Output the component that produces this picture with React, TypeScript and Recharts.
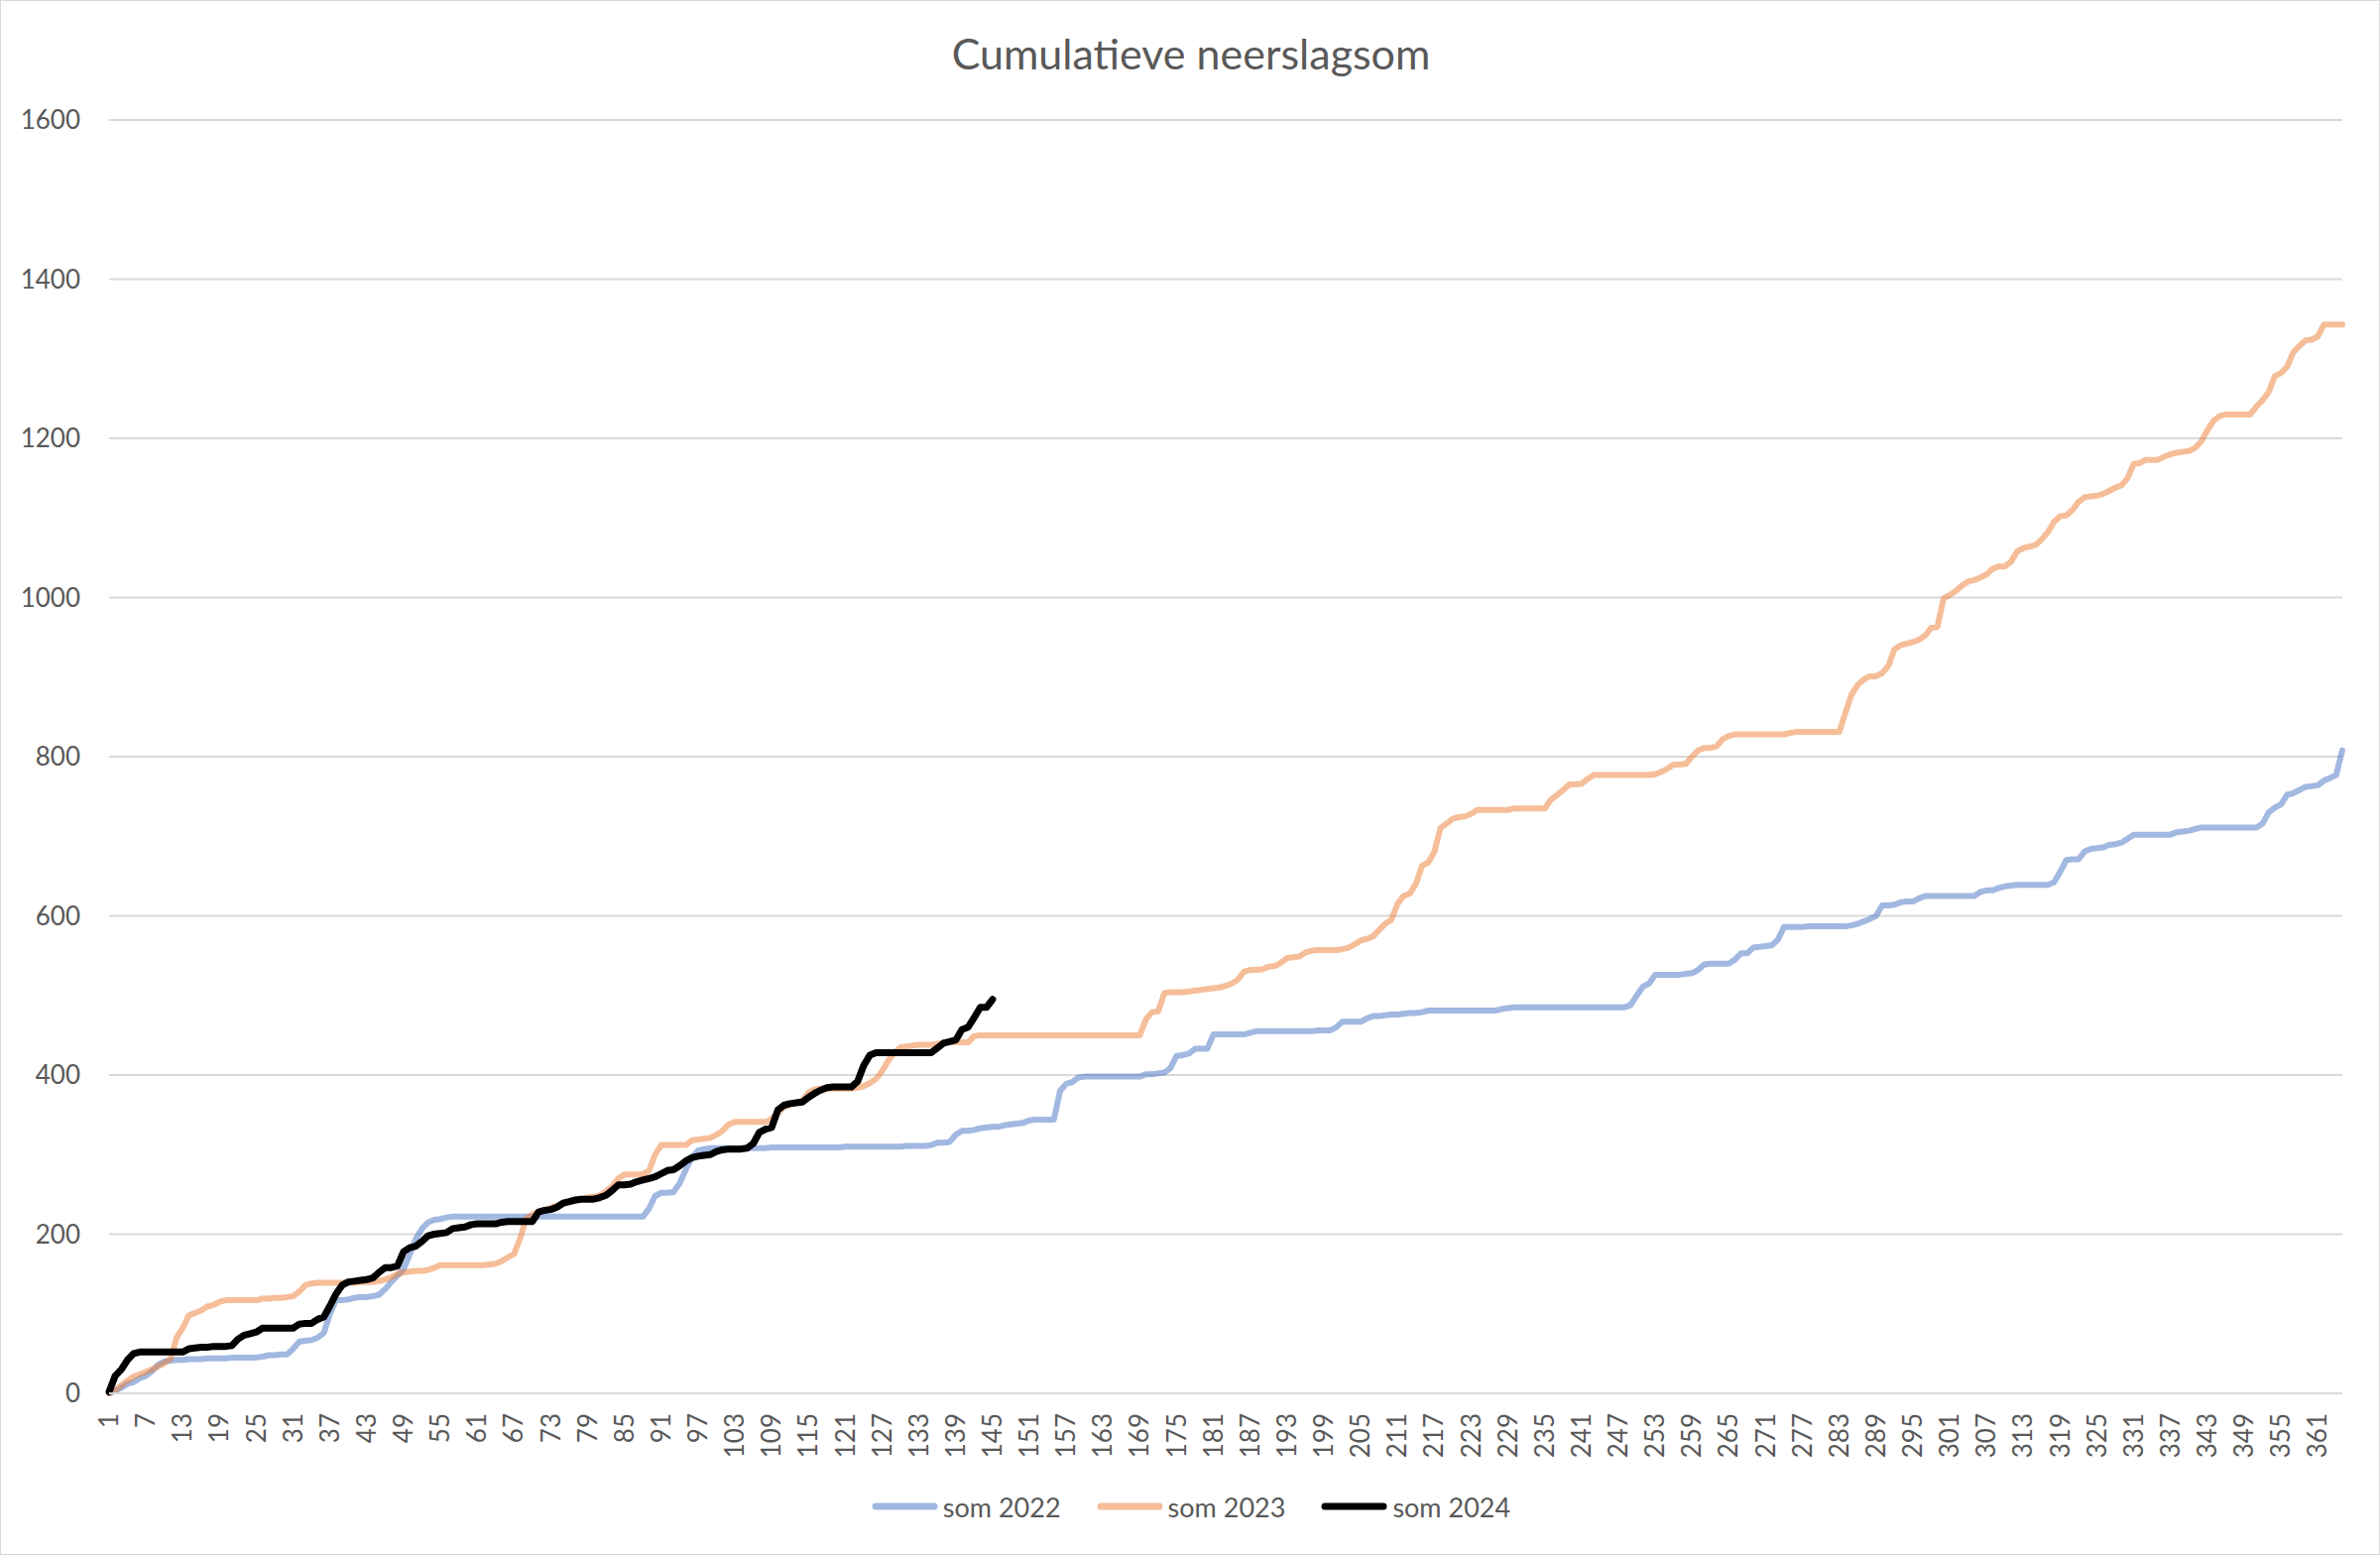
import { LineChart, Line, XAxis, YAxis, CartesianGrid } from 'recharts';

const FONT = 'Lato, "Open Sans", sans-serif';

// day numbers 1..365 (category labels)
const days = Array.from({ length: 365 }, (_, i) => i + 1);

const yTicks = [0, 200, 400, 600, 800, 1000, 1200, 1400, 1600];

// cumulative precipitation (mm)
const som2022 = [
  0, 3, 7, 12, 14, 19, 22, 28, 36, 40,
  41, 42, 42, 43, 43, 43, 44, 44, 44, 44,
  45, 45, 45, 45, 45, 46, 48, 48, 49, 49,
  56, 65, 66, 67, 70, 76, 100, 117, 117, 118,
  120, 121, 121, 122, 124, 131, 140, 148, 156, 175,
  194, 207, 215, 218, 219, 221, 222, 222, 222, 222,
  222, 222, 222, 222, 222, 222, 222, 222, 222, 222,
  222, 222, 222, 222, 222, 222, 222, 222, 222, 222,
  222, 222, 222, 222, 222, 222, 222, 222, 232, 248,
  252, 252, 253, 264, 281, 297, 305, 307, 308, 308,
  308, 308, 308, 308, 308, 308, 308, 308, 309, 309,
  309, 309, 309, 309, 309, 309, 309, 309, 309, 309,
  310, 310, 310, 310, 310, 310, 310, 310, 310, 310,
  311, 311, 311, 311, 312, 315, 315, 316, 325, 330,
  330, 331, 333, 334, 335, 335, 337, 338, 339, 340,
  343, 344, 344, 344, 344, 380, 389, 391, 397, 398,
  398, 398, 398, 398, 398, 398, 398, 398, 398, 401,
  401, 402, 403, 409, 424, 425, 427, 433, 433, 433,
  451, 451, 451, 451, 451, 451, 453, 455, 455, 455,
  455, 455, 455, 455, 455, 455, 455, 456, 456, 456,
  460, 467, 467, 467, 467, 471, 474, 474, 475, 476,
  476, 477, 478, 478, 479, 481, 481, 481, 481, 481,
  481, 481, 481, 481, 481, 481, 481, 483, 484, 485,
  485, 485, 485, 485, 485, 485, 485, 485, 485, 485,
  485, 485, 485, 485, 485, 485, 485, 485, 488, 500,
  511, 515, 526, 526, 526, 526, 526, 527, 528, 532,
  539, 540, 540, 540, 540, 545, 553, 553, 560, 561,
  562, 563, 570, 586, 586, 586, 586, 587, 587, 587,
  587, 587, 587, 587, 588, 590, 593, 596, 600, 613,
  613, 614, 617, 618, 618, 622, 625, 625, 625, 625,
  625, 625, 625, 625, 625, 630, 632, 632, 635, 637,
  638, 639, 639, 639, 639, 639, 639, 642, 655, 670,
  671, 671, 681, 684, 685, 686, 689, 690, 692, 697,
  702, 702, 702, 702, 702, 702, 702, 705, 706, 707,
  709, 711, 711, 711, 711, 711, 711, 711, 711, 711,
  711, 716, 730, 736, 740, 752, 754, 758, 762, 763,
  764, 770, 773, 777, 808,
];

const som2023 = [
  0, 4, 10, 16, 21, 24, 27, 30, 34, 38,
  43, 70, 82, 98, 101, 104, 109, 111, 115, 117,
  117, 117, 117, 117, 117, 119, 119, 120, 120, 121,
  122, 128, 136, 138, 139, 139, 139, 139, 139, 139,
  139, 140, 140, 140, 141, 143, 146, 150, 152, 153,
  154, 154, 155, 158, 161, 161, 161, 161, 161, 161,
  161, 161, 162, 163, 166, 171, 175, 195, 220, 225,
  228, 230, 233, 236, 238, 240, 242, 244, 246, 247,
  249, 254, 260, 270, 275, 275, 275, 275, 280, 300,
  312, 312, 312, 312, 312, 318, 319, 320, 321, 325,
  330, 338, 341, 341, 341, 341, 341, 341, 345, 352,
  360, 363, 365, 368, 378, 382, 383, 383, 383, 383,
  383, 383, 384, 386, 390, 395, 405, 418, 428, 435,
  436, 437, 438, 438, 438, 439, 441, 441, 441, 441,
  441, 449, 450, 450, 450, 450, 450, 450, 450, 450,
  450, 450, 450, 450, 450, 450, 450, 450, 450, 450,
  450, 450, 450, 450, 450, 450, 450, 450, 450, 470,
  479, 480, 503, 504, 504, 504, 505, 506, 507, 508,
  509, 510, 512, 515, 520, 530, 532, 532, 533, 536,
  537, 541, 547, 548, 549, 554, 556, 557, 557, 557,
  557, 558, 560, 564, 569, 571, 574, 582, 590, 595,
  615, 625, 628, 640, 663, 667, 680, 710, 716, 722,
  724, 725, 728, 733, 733, 733, 733, 733, 733, 735,
  735, 735, 735, 735, 735, 746, 752, 758, 765, 765,
  766, 772, 777, 777, 777, 777, 777, 777, 777, 777,
  777, 777, 778, 781, 785, 790, 790, 791, 800, 808,
  811, 811, 813, 822, 826, 828, 828, 828, 828, 828,
  828, 828, 828, 828, 830, 831, 831, 831, 831, 831,
  831, 831, 831, 855, 878, 890, 897, 901, 901, 905,
  914, 935, 940, 942, 944, 947, 952, 962, 963, 999,
  1003, 1008, 1015, 1020, 1022, 1025, 1029, 1036, 1039, 1039,
  1045, 1058, 1062, 1064, 1066, 1073, 1082, 1095, 1102, 1103,
  1110, 1120, 1126, 1127, 1128, 1130, 1134, 1138, 1141, 1150,
  1168, 1169, 1173, 1173, 1173, 1177, 1180, 1182, 1183, 1184,
  1188, 1196, 1210, 1222, 1228, 1230, 1230, 1230, 1230, 1230,
  1240, 1248, 1258, 1278, 1282, 1290, 1308, 1316, 1323, 1324,
  1328, 1343, 1343, 1343, 1343,
];

const som2024 = [
  2, 22, 30, 42, 50, 52, 52, 52, 52, 52,
  52, 52, 52, 56, 57, 58, 58, 59, 59, 59,
  60, 68, 73, 75, 77, 82, 82, 82, 82, 82,
  82, 87, 88, 88, 93, 96, 110, 125, 136, 140,
  141, 142, 143, 145, 152, 158, 158, 160, 178, 183,
  185, 191, 198, 200, 201, 202, 207, 208, 209, 212,
  213, 213, 213, 213, 215, 216, 216, 216, 216, 216,
  228, 230, 231, 234, 239, 241, 243, 244, 244, 244,
  246, 249, 255, 262, 262, 263, 266, 268, 270, 272,
  276, 280, 281, 286, 292, 296, 298, 299, 300, 304,
  306, 307, 307, 307, 308, 314, 328, 332, 334, 356,
  362, 364, 365, 366, 372, 377, 381, 384, 385, 385,
  385, 385, 392, 412, 425, 428, 428, 428, 428, 428,
  428, 428, 428, 428, 428, 434, 440, 442, 444, 457,
  460, 472, 485, 485, 495,
];

const series = [
  { key: 'som2022', name: 'som 2022', color: '#4472C4', opacity: 0.5, width: 6 },
  { key: 'som2023', name: 'som 2023', color: '#ED7D31', opacity: 0.5, width: 6 },
  { key: 'som2024', name: 'som 2024', color: '#000000', opacity: 1, width: 7 },
];

const data = days.map((d, i) => ({
  day: d,
  som2022: som2022[i],
  som2023: som2023[i],
  som2024: som2024[i],
}));

const XTick = (props: any) => {
  const { x, y, payload } = props;
  return (
    <g transform={`translate(${x},${y})`}>
      <text
        transform="rotate(-90)"
        x={0}
        y={0}
        dy="0.35em"
        textAnchor="end"
        fill="#595959"
        fontSize={26}
        fontFamily={FONT}
      >
        {payload.value}
      </text>
    </g>
  );
};

export default function App() {
  return (
    <div
      style={{
        position: 'absolute',
        left: 0,
        top: 0,
        width: 2400,
        height: 1568,
        boxSizing: 'border-box',
        border: '1px solid #d9d9d9',
        background: '#fff',
        fontFamily: FONT,
      }}
    >
      <div
        style={{
          position: 'absolute',
          top: 29,
          left: 0,
          width: 2400,
          textAlign: 'center',
          fontSize: 43,
          lineHeight: '48px',
          color: '#595959',
        }}
      >
        Cumulatieve neerslagsom
      </div>

      <div style={{ position: 'absolute', left: -1, top: -1 }}>
        <LineChart width={2400} height={1568} data={data} margin={{ top: 121, right: 38, bottom: 0, left: 0 }}>
          <CartesianGrid vertical={false} stroke="#d9d9d9" strokeWidth={2} />
          <XAxis
            dataKey="day"
            interval={5}
            height={163}
            tickLine={false}
            tickSize={0}
            tickMargin={20}
            axisLine={{ stroke: '#d9d9d9', strokeWidth: 2 }}
            tick={<XTick />}
          />
          <YAxis
            width={110}
            domain={[0, 1600]}
            ticks={yTicks}
            axisLine={false}
            tickLine={false}
            tickSize={0}
            tickMargin={29}
            tick={{ fill: '#595959', fontSize: 26, fontFamily: FONT }}
          />
          {series.map((s) => (
            <Line
              key={s.key}
              type="linear"
              dataKey={s.key}
              name={s.name}
              stroke={s.color}
              strokeOpacity={s.opacity}
              strokeWidth={s.width}
              strokeLinejoin="round"
              strokeLinecap="round"
              dot={false}
              activeDot={false}
              isAnimationActive={false}
            />
          ))}
        </LineChart>
      </div>

      <div
        style={{
          position: 'absolute',
          top: 1500,
          left: 0,
          width: 2400,
          height: 36,
          display: 'flex',
          justifyContent: 'center',
          alignItems: 'center',
          gap: 36,
        }}
      >
        {series.map((s) => (
          <div key={s.key} style={{ display: 'flex', alignItems: 'center' }}>
            <svg width={67} height={10}>
              <line
                x1={4}
                y1={5}
                x2={63}
                y2={5}
                stroke={s.color}
                strokeOpacity={s.opacity}
                strokeWidth={7}
                strokeLinecap="round"
              />
            </svg>
            <span style={{ marginLeft: 5, fontSize: 27, color: '#595959' }}>{s.name}</span>
          </div>
        ))}
      </div>
    </div>
  );
}
